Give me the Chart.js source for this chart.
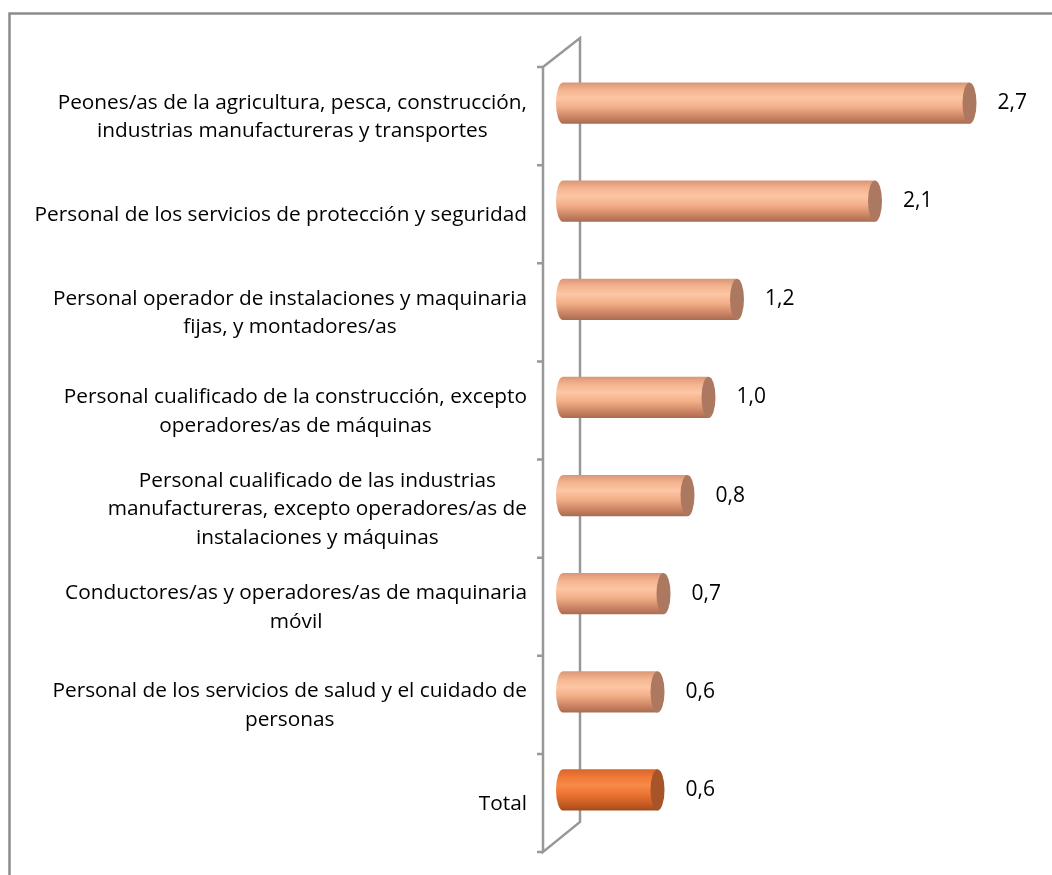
<!DOCTYPE html>
<html>
<head>
<meta charset="utf-8">
<script src="https://cdn.jsdelivr.net/npm/chart.js@4/dist/chart.umd.min.js"></script>
<style>
  html, body { margin: 0; padding: 0; background: #fff; }
</style>
</head>
<body>
<canvas id="chart" width="1052" height="875"></canvas>
<script>
// ocupaciones (de arriba a abajo)
const categories = [
  ['Peones/as de la agricultura, pesca, construcción,', 'industrias manufactureras y transportes'],
  'Personal de los servicios de protección y seguridad',
  ['Personal operador de instalaciones y maquinaria', 'fijas, y montadores/as'],
  ['Personal cualificado de la construcción, excepto', 'operadores/as de máquinas'],
  ['Personal cualificado de las industrias', 'manufactureras, excepto operadores/as de', 'instalaciones y máquinas'],
  ['Conductores/as y operadores/as de maquinaria', 'móvil'],
  ['Personal de los servicios de salud y el cuidado de', 'personas'],
  'Total'
];
const values = [2.71, 2.08, 1.16, 0.97, 0.83, 0.67, 0.63, 0.63];
const isTotal = [false, false, false, false, false, false, false, true];

const CAP = 7;
const salmon = { stops: ['#d99676', '#f4b38f', '#fdc6a4', '#f2ae88', '#c98262', '#a86c52'], cap: '#ad7860' };
const orange = { stops: ['#d9662a', '#f07838', '#f88a48', '#ec7434', '#c65c22', '#a24a1a'], cap: '#a8542a' };

function cylFill(ctx, top, h, pal) {
  const g = ctx.createLinearGradient(0, top, 0, top + h);
  const pos = [0, 0.18, 0.38, 0.6, 0.85, 1];
  pal.stops.forEach((c, i) => g.addColorStop(pos[i], c));
  return g;
}

const decor = {
  id: 'decor',
  beforeDraw(chart) {
    const c = chart.ctx;
    c.save();
    c.strokeStyle = '#8c8c8c'; c.lineWidth = 2.5;
    c.beginPath(); c.moveTo(9.5, 900); c.lineTo(9.5, 13.5); c.lineTo(1100, 13.5); c.stroke();
    c.restore();
  },
  beforeDatasetsDraw(chart) {
    const c = chart.ctx, a = chart.chartArea, ys = chart.scales.y;
    const fx = a.left - 20, bx = a.left + 17, dy = 13;
    c.save();
    c.strokeStyle = '#989898'; c.lineWidth = 2.5;
    c.beginPath();
    c.moveTo(fx, a.top + dy); c.lineTo(fx, a.bottom + dy);
    c.lineTo(bx, a.bottom - 17); c.lineTo(bx, a.top - 16); c.lineTo(fx, a.top + dy);
    c.stroke();
    const n = categories.length, step = (a.bottom - a.top) / n;
    c.beginPath();
    for (let i = 0; i <= n; i++) {
      const y = a.top + dy + i * step;
      c.moveTo(fx - 6, y); c.lineTo(fx, y);
    }
    c.stroke();

    // etiquetas de categoría: bloque alineado a la derecha, líneas centradas
    c.fillStyle = '#000';
    c.font = '20.8px "Open Sans", sans-serif';
    c.textAlign = 'center'; c.textBaseline = 'middle';
    const lh = 28.5;
    categories.forEach((lab, i) => {
      const lines = Array.isArray(lab) ? lab : [lab];
      const w = Math.max(...lines.map(l => c.measureText(l).width));
      const cx = fx - 16 - w / 2;
      const cy = ys.getPixelForTick(i) + dy + 1;
      lines.forEach((l, k) => c.fillText(l, cx, cy + (k - (lines.length - 1) / 2) * lh));
    });
    c.restore();
  },
  afterDatasetsDraw(chart) {
    const c = chart.ctx;
    const meta = chart.getDatasetMeta(0);
    meta.data.forEach((bar, i) => {
      const pal = isTotal[i] ? orange : salmon;
      const h = bar.height, top = bar.y - h / 2;
      c.save();
      c.fillStyle = cylFill(c, top, h, pal);
      c.beginPath();
      c.ellipse(bar.base, bar.y, CAP, h / 2, 0, Math.PI / 2, Math.PI * 1.5);
      c.lineTo(bar.x, top);
      c.lineTo(bar.x, top + h);
      c.closePath();
      c.fill();
      c.fillStyle = pal.cap;
      c.beginPath();
      c.ellipse(bar.x, bar.y, CAP, h / 2, 0, 0, Math.PI * 2);
      c.fill();
      c.fillStyle = '#000';
      c.font = '21px "Open Sans", sans-serif';
      c.textAlign = 'left'; c.textBaseline = 'middle';
      c.fillText(values[i].toFixed(1).replace('.', ','), bar.x + CAP + 21, bar.y);
      c.restore();
    });
  }
};

new Chart(document.getElementById('chart'), {
  type: 'bar',
  data: {
    labels: categories,
    datasets: [{ data: values, backgroundColor: 'rgba(0,0,0,0)', borderWidth: 0, barPercentage: 0.42, categoryPercentage: 1 }]
  },
  options: {
    indexAxis: 'y',
    responsive: false,
    animation: false,
    layout: { padding: { top: 54, bottom: 36, right: 39, left: 0 } },
    plugins: { legend: { display: false }, tooltip: { enabled: false } },
    scales: {
      x: { display: false, min: 0, max: 3 },
      y: {
        grid: { display: false }, border: { display: false },
        ticks: { display: false },
        afterFit(s) { s.width = 563; }
      }
    }
  },
  plugins: [decor]
});
</script>
</body>
</html>
